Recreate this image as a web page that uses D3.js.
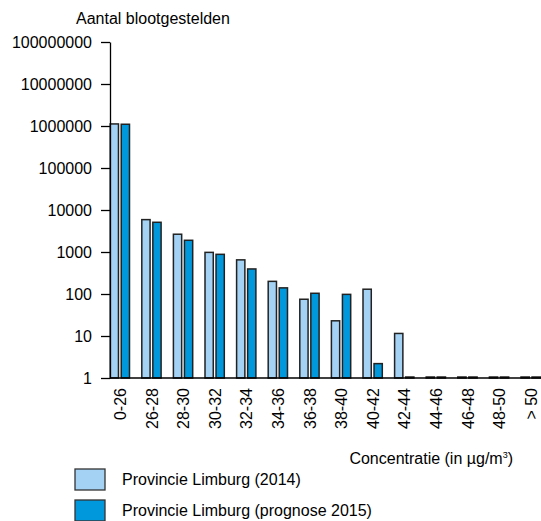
<!DOCTYPE html>
<html>
<head>
<meta charset="utf-8">
<script src="https://cdn.jsdelivr.net/npm/d3@7"></script>
<style>
  body { margin: 0; background: #fff; }
  text { font-family: "Liberation Sans", Arial, sans-serif; fill: #000; }
</style>
</head>
<body>
<script>
// data
var categories = ['0-26', '26-28', '28-30', '30-32', '32-34', '34-36', '36-38',
                  '38-40', '40-42', '42-44', '44-46', '46-48', '48-50', '> 50'];
var limburg2014 = [1120000, 5900, 2650, 980, 650, 200, 75, 23, 130, 11.5, 1, 1, 1, 1];
var limburg2015 = [1100000, 5100, 1900, 880, 395, 140, 104, 98, 2.2, 1, 1, 1, 1, 1];
var yTicks = [1, 10, 100, 1000, 10000, 100000, 1000000, 10000000, 100000000];
var seriesNames = ['Provincie Limburg (2014)', 'Provincie Limburg (prognose 2015)'];
var colors = ['#a3d2f4', '#0098dc'];

var w = 541, h = 521;

var svg = d3.select('body').append('svg')
  .attr('width', w)
  .attr('height', h);

// scales
var y = d3.scaleLog().domain([1, 1e8]).range([378, 42]);
var x0 = d3.scaleBand().domain(categories).range([104.2, 546.6]).padding(0);
var x1 = d3.scaleBand().domain([0, 1]).range([6, 25.3]).paddingInner(0.25);

// rows for the groups
var rows = categories.map(function(c, i) {
  return { cat: c, vals: [limburg2014[i], limburg2015[i]] };
});

// bars
var groups = svg.selectAll('.group').data(rows)
  .enter().append('g')
  .attr('class', 'group')
  .attr('transform', function(d) { return 'translate(' + x0(d.cat) + ',0)'; });

groups.selectAll('rect')
  .data(function(d) { return d.vals.map(function(v, k) { return { k: k, v: v }; }); })
  .enter().append('rect')
  .attr('x', function(d) { return x1(d.k); })
  .attr('y', function(d) { return Math.min(y(d.v), y(1) - 1); })
  .attr('width', x1.bandwidth())
  .attr('height', function(d) { return Math.max(y(1) - y(d.v), 1); })
  .style('fill', function(d) { return colors[d.k]; })
  .style('stroke', '#222')
  .style('stroke-width', 1.5);

// y axis
var yAxis = d3.axisLeft(y)
  .tickValues(yTicks)
  .tickFormat(d3.format('d'))
  .tickSize(9)
  .tickSizeOuter(0)
  .tickPadding(9);

var gy = svg.append('g')
  .attr('transform', 'translate(110,0)')
  .call(yAxis);
gy.selectAll('text').style('font-size', '16px').style('font-family', '"Liberation Sans", Arial, sans-serif');
gy.selectAll('line, path').style('stroke', '#000').style('stroke-width', 1.3);

// x axis line
svg.append('line')
  .attr('x1', 110).attr('x2', w)
  .attr('y1', y(1)).attr('y2', y(1))
  .style('stroke', '#000').style('stroke-width', 1.5);

// x labels, rotated
svg.selectAll('.xlab').data(categories)
  .enter().append('text')
  .attr('class', 'xlab')
  .attr('transform', function(d) {
    return 'translate(' + (x0(d) + x0.bandwidth() / 2 + 6) + ',388) rotate(-90)';
  })
  .attr('text-anchor', 'end')
  .style('font-size', '16px')
  .text(function(d) { return d; });

// titles
svg.append('text')
  .attr('x', 76).attr('y', 24)
  .style('font-size', '16px')
  .text('Aantal blootgestelden');

var xt = svg.append('text')
  .attr('x', 513).attr('y', 464)
  .attr('text-anchor', 'end')
  .style('font-size', '16px');
xt.append('tspan').text('Concentratie (in µg/m');
xt.append('tspan').attr('dy', -6).style('font-size', '9px').text('3');
xt.append('tspan').attr('dy', 6).text(')');

// legend
var legend = svg.selectAll('.legend').data(seriesNames)
  .enter().append('g')
  .attr('class', 'legend')
  .attr('transform', function(d, i) { return 'translate(75,' + (469 + i * 31) + ')'; });

legend.append('rect')
  .attr('width', 30).attr('height', 21)
  .style('fill', function(d, i) { return colors[i]; })
  .style('stroke', '#333')
  .style('stroke-width', 1.3);

legend.append('text')
  .attr('x', 47).attr('y', 16)
  .style('font-size', '16px')
  .text(function(d) { return d; });
</script>
</body>
</html>
